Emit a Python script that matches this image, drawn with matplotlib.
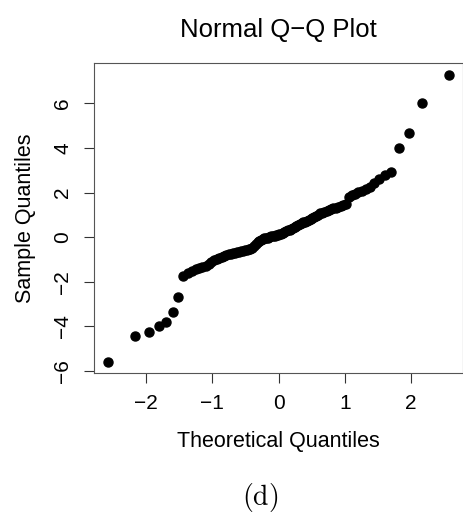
import matplotlib
matplotlib.use("Agg")
import matplotlib.pyplot as plt
import numpy as np
from statistics import NormalDist

plt.rcParams['font.family'] = ['Liberation Sans', 'DejaVu Sans']
plt.rcParams['mathtext.fontset'] = 'cm'

# sorted sample values (n = 100)
sample = [
    -5.60, -4.46, -4.24, -4.00, -3.83, -3.35, -2.67, -1.74, -1.62, -1.52,
    -1.42, -1.38, -1.35, -1.30, -1.22, -1.12, -1.05, -0.98, -0.93, -0.88,
    -0.85, -0.82, -0.78, -0.74, -0.72, -0.70, -0.68, -0.66, -0.63, -0.61,
    -0.59, -0.57, -0.55, -0.52, -0.48, -0.42, -0.30, -0.22, -0.16, -0.12,
    -0.09, -0.06, -0.04, -0.02, 0.01, 0.03, 0.05, 0.07, 0.09, 0.10,
    0.12, 0.16, 0.20, 0.24, 0.28, 0.31, 0.34, 0.38, 0.41, 0.44,
    0.48, 0.53, 0.58, 0.63, 0.67, 0.70, 0.73, 0.76, 0.80, 0.85,
    0.90, 0.95, 1.01, 1.06, 1.10, 1.14, 1.18, 1.22, 1.25, 1.29,
    1.32, 1.35, 1.39, 1.43, 1.50, 1.78, 1.88, 1.95, 2.01, 2.08,
    2.17, 2.27, 2.45, 2.62, 2.78, 2.94, 3.98, 4.67, 6.04, 7.30,
]
x_ticks = [-2, -1, 0, 1, 2]
y_ticks = [-6, -4, -2, 0, 2, 4, 6]

# theoretical normal quantiles, as R's qqnorm (ppoints)
n = len(sample)
theo = [NormalDist().inv_cdf((i + 0.5) / n) for i in range(n)]

fig = plt.figure(figsize=(4.63, 5.14), dpi=100)
ax = fig.add_axes([0.2037, 0.2737, 0.7963, 0.6037])

ax.plot(theo, sample, 'o', color='black', ms=6.5, mec='black')

# R style 4% padding
xr = max(theo) - min(theo)
yr = max(sample) - min(sample)
ax.set_xlim(min(theo) - 0.04 * xr, max(theo) + 0.04 * xr)
ax.set_ylim(min(sample) - 0.04 * yr, max(sample) + 0.04 * yr)

ax.set_xticks(x_ticks)
ax.set_yticks(y_ticks)
ax.set_yticklabels([str(t).replace('-', '\u2212') for t in y_ticks], rotation=90, va='center')
ax.tick_params(direction='out', length=7, width=0.8, color='#333333', labelsize=15)
ax.tick_params(axis='x', pad=8)
ax.tick_params(axis='y', pad=9)
for s in ax.spines.values():
    s.set_color('#555555')
    s.set_linewidth(0.8)

ax.set_xlabel('Theoretical Quantiles', fontsize=15.5, labelpad=13)
ax.set_ylabel('Sample Quantiles', fontsize=15.5, labelpad=12)
fig.text(0.601, 0.942, 'Normal Q\u2212Q Plot', ha='center', va='center', fontsize=18.5)
fig.text(0.5616, 0.033, r'$\mathrm{(d)}$', ha='center', va='center', fontsize=20)

fig.savefig('out.png', dpi=100)
